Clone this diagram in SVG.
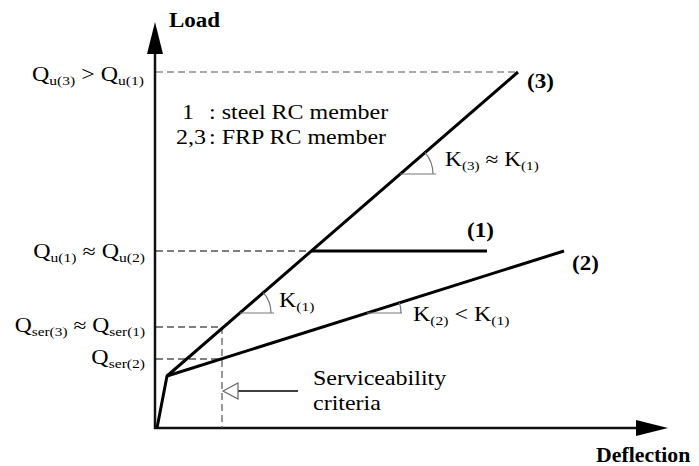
<svg xmlns="http://www.w3.org/2000/svg" width="699" height="466" viewBox="0 0 699 466">
<style>
text{font-family:'Liberation Serif','DejaVu Serif',serif;font-size:20px;fill:#000}
.b{font-weight:bold}
.s{font-size:13px}
.curve{fill:none;stroke:#000;stroke-width:3;stroke-linejoin:round}
.axis{fill:none;stroke:#111;stroke-width:2.5}
.dash{fill:none;stroke:#000;stroke-width:1.2;stroke-dasharray:7 4}
.dashg{fill:none;stroke:#555;stroke-width:1.2;stroke-dasharray:7 4}
.ang{fill:none;stroke:#777;stroke-width:1.2}
</style>
<rect width="699" height="466" fill="#fff"/>
<g id="axes">
<line class="axis" x1="155" y1="50" x2="155" y2="429"/>
<line class="axis" x1="154" y1="428" x2="640" y2="428"/>
<polygon points="155,22 147,54 163,54" fill="#000"/>
<polygon points="668,428 636,420 636,436" fill="#000"/>
</g>
<g id="guides">
<line class="dashg" x1="156" y1="72" x2="518" y2="72"/>
<line class="dash" x1="156" y1="251" x2="311" y2="251"/>
<line class="dash" x1="156" y1="327" x2="222" y2="327"/>
<line class="dash" x1="156" y1="359" x2="222" y2="359"/>
<line class="dashg" x1="222" y1="327" x2="222" y2="428"/>
</g>
<g id="connectors">
<polyline id="curve3" class="curve" points="157,428 167,376 518,72"/>
<polyline id="curve1" class="curve" points="311,251 487,251"/>
<polyline id="curve2" class="curve" points="167,376 564,251"/>
<line x1="238" y1="391" x2="298" y2="391" stroke="#000" stroke-width="1.5"/>
<polygon points="223,391 238,383 238,399" fill="#fff" stroke="#666" stroke-width="1.2"/>
</g>
<g id="angles">
<path class="ang" d="M400,174 H436 M424.9,152.4 A33,33 0 0 1 433,174"/>
<path class="ang" d="M240,313 H274 M263.4,292.7 A31,31 0 0 1 271,313"/>
<path class="ang" d="M367,313 H402 M399.4,302.7 A34,34 0 0 1 401,313"/>
</g>
<g id="labels">
<text class="b" transform="translate(169,27) scale(1.15,1)">Load</text>
<text class="b" transform="translate(596,462) scale(1.09,1)">Deflection</text>
<text class="b" transform="translate(527,88) scale(1.15,1)">(3)</text>
<text class="b" transform="translate(467,237) scale(1.15,1)">(1)</text>
<text class="b" transform="translate(572,270) scale(1.15,1)">(2)</text>
<text text-anchor="end" transform="translate(144,81) scale(1.2,1)">Q<tspan class="s" dy="4">u(3)</tspan><tspan dy="-4"> &gt; Q</tspan><tspan class="s" dy="4">u(1)</tspan></text>
<text text-anchor="end" transform="translate(145,258) scale(1.2,1)">Q<tspan class="s" dy="4">u(1)</tspan><tspan dy="-4"> ≈ Q</tspan><tspan class="s" dy="4">u(2)</tspan></text>
<text text-anchor="end" transform="translate(145,332) scale(1.18,1)">Q<tspan class="s" dy="4">ser(3)</tspan><tspan dy="-4"> ≈ Q</tspan><tspan class="s" dy="4">ser(1)</tspan></text>
<text text-anchor="end" transform="translate(145,364) scale(1.2,1)">Q<tspan class="s" dy="4">ser(2)</tspan></text>
<text transform="translate(182,119) scale(1.2,1)">1</text>
<text transform="translate(209,119) scale(1.2,1)">: steel RC member</text>
<text transform="translate(176,144) scale(1.2,1)">2,3</text>
<text transform="translate(209,144) scale(1.2,1)">: FRP RC member</text>
<text transform="translate(445,166) scale(1.17,1)">K<tspan class="s" dy="4">(3)</tspan><tspan dy="-4"> ≈ K</tspan><tspan class="s" dy="4">(1)</tspan></text>
<text transform="translate(279,307) scale(1.2,1)">K<tspan class="s" dy="4">(1)</tspan></text>
<text transform="translate(413,321) scale(1.2,1)">K<tspan class="s" dy="4">(2)</tspan><tspan dy="-4"> &lt; K</tspan><tspan class="s" dy="4">(1)</tspan></text>
<text transform="translate(313,385) scale(1.2,1)">Serviceability</text>
<text transform="translate(313,410) scale(1.2,1)">criteria</text>
</g>
</svg>
